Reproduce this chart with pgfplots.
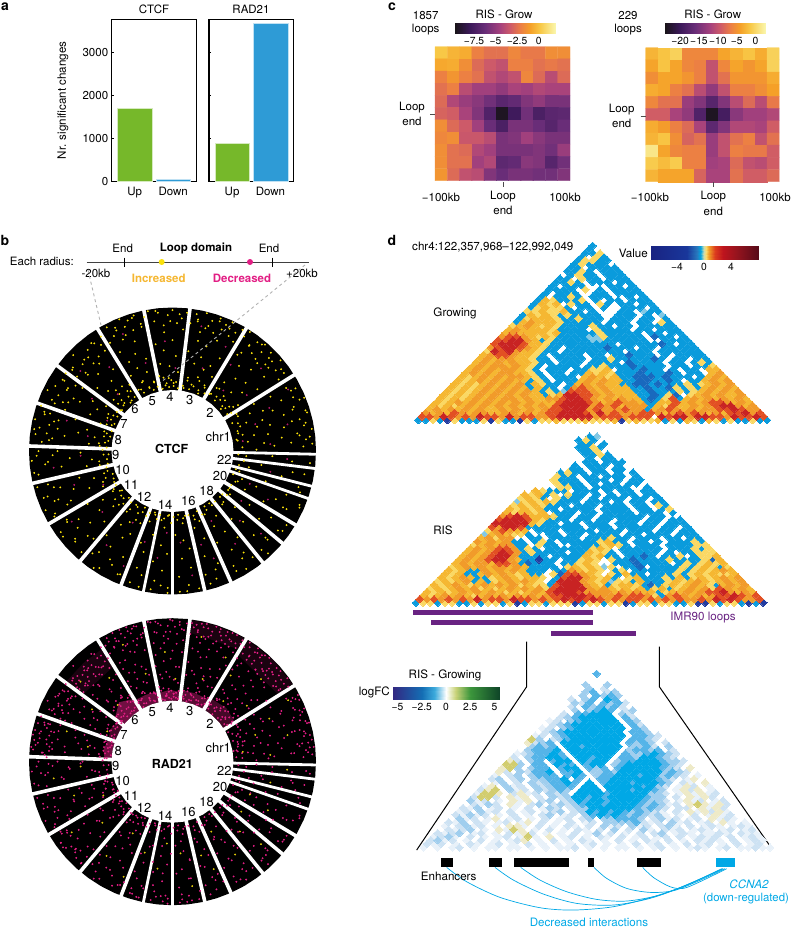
\documentclass[border=0pt]{standalone}
\usepackage{fontspec}
\setmainfont{TeX Gyre Heros}
\usepackage{pgfplots}
\usepackage{pgfplotstable}
\pgfplotsset{compat=1.18}
\definecolor{gbar}{RGB}{118,184,42}\definecolor{bbar}{RGB}{46,155,214}
\definecolor{yel}{RGB}{250,225,10}\definecolor{mag}{RGB}{226,30,132}
\definecolor{gb}{RGB}{10,155,220}\definecolor{gd}{RGB}{25,105,190}\definecolor{gn}{RGB}{35,60,160}\definecolor{gp}{RGB}{130,200,228}
\definecolor{ga}{RGB}{245,183,50}\definecolor{gy}{RGB}{250,216,100}\definecolor{go}{RGB}{241,155,42}\definecolor{gr}{RGB}{226,80,35}\definecolor{gR}{RGB}{200,35,35}
\definecolor{cy}{RGB}{0,168,230}\definecolor{pu}{RGB}{105,35,130}
\definecolor{f1}{RGB}{232,241,249}\definecolor{f2}{RGB}{205,226,243}\definecolor{f3}{RGB}{160,206,238}\definecolor{f4}{RGB}{85,180,232}
\definecolor{o1}{RGB}{238,234,200}\definecolor{o2}{RGB}{210,205,110}
\pgfplotsset{
 colormap={inf}{rgb255(0)=(25,20,25) rgb255(15)=(60,25,90) rgb255(30)=(105,45,120) rgb255(45)=(165,65,125) rgb255(55)=(205,90,105) rgb255(65)=(235,125,70) rgb255(75)=(245,160,40) rgb255(85)=(248,200,70) rgb255(100)=(250,245,170)},
 colormap={val}{rgb255(0)=(25,35,130) rgb255(80)=(25,55,155) rgb255(102)=(40,120,190) rgb255(110)=(0,165,225) rgb255(117)=(200,220,180) rgb255(122)=(250,220,110) rgb255(128)=(240,160,40) rgb255(142)=(220,60,30) rgb255(160)=(190,20,30) rgb255(190)=(150,20,30) rgb255(240)=(85,10,25)},
 colormap={lfc}{rgb255(0)=(50,40,130) rgb255(30)=(20,110,180) rgb255(43)=(60,170,220) rgb255(55)=(255,255,255) rgb255(65)=(200,210,120) rgb255(80)=(60,150,60) rgb255(110)=(15,70,40)},
 cell/.style={only marks,mark=square*,mark size=2.6,mark options={rotate=45,fill=#1,draw=#1,line width=0pt},forget plot},
 poly/.style={fill=#1,draw=none,forget plot},
 zoomaxis/.style={scale only axis,hide axis,clip=false,y dir=reverse,anchor=north west},
 hm/.style={scale only axis,hide axis,clip=false,y dir=reverse,anchor=north west,colormap name=inf,point meta min=0,point meta max=1,xmin=-.5,xmax=10.5,ymin=-.5,ymax=10.5,width=#1,height=134},
 cb/.style={scale only axis,anchor=north west,ymin=0,ymax=1,ytick=\empty,axis line style={draw=none},tick style={white,line width=.4pt},tick align=inside,xtick pos=bottom,major tick length=2,enlargelimits=false,tick label style={font=\fontsize{10.3}{11}\selectfont,yshift=-.5pt}},
 circ/.style={scale only axis,hide axis,clip=false,anchor=center,width=300,height=300,xmin=-150,xmax=150,ymin=-150,ymax=150,data cs=polar},
 dot/.style={only marks,mark=*,mark size=.72,#1,forget plot},
 barax/.style={scale only axis,anchor=north west,width=84.5,height=162,ymin=0,ymax=3767,xmin=.4,xmax=2.6,ybar,bar width=.9,bar shift=0pt,xtick={1,2},xticklabels={Up,Down},ytick={0,1000,2000,3000},major tick length=2,xtick style={draw=none},axis line style={line width=1.2pt},ytick pos=left,tick style={black,line width=.7pt},tick label style={font=\fontsize{11.5}{12}\selectfont},/pgf/number format/assume math mode=true,/pgf/number format/1000 sep={}},
}
\pgfplotstableread[row sep=\\]{a r\\0 143.5\\6 143.5\\12 143.5\\18 143.5\\24 143.5\\30 143.5\\36 143.5\\42 143.5\\48 143.5\\54 143.5\\60 143.5\\66 143.5\\72 143.5\\78 143.5\\84 143.5\\90 143.5\\96 143.5\\102 143.5\\108 143.5\\114 143.5\\120 143.5\\126 143.5\\132 143.5\\138 143.5\\144 143.5\\150 143.5\\156 143.5\\162 143.5\\168 143.5\\174 143.5\\180 143.5\\186 143.5\\192 143.5\\198 143.5\\204 143.5\\210 143.5\\216 143.5\\222 143.5\\228 143.5\\234 143.5\\240 143.5\\246 143.5\\252 143.5\\258 143.5\\264 143.5\\270 143.5\\276 143.5\\282 143.5\\288 143.5\\294 143.5\\300 143.5\\306 143.5\\312 143.5\\318 143.5\\324 143.5\\330 143.5\\336 143.5\\342 143.5\\348 143.5\\354 143.5\\}\ringout
\pgfplotstableread[row sep=\\]{a r\\0 61\\10 61\\20 61\\30 61\\40 61\\50 61\\60 61\\70 61\\80 61\\90 61\\100 61\\110 61\\120 61\\130 61\\140 61\\150 61\\160 61\\170 61\\180 61\\190 61\\200 61\\210 61\\220 61\\230 61\\240 61\\250 61\\260 61\\270 61\\280 61\\290 61\\300 61\\310 61\\320 61\\330 61\\340 61\\350 61\\}\ringin
\pgfplotstableread[row sep=\\]{a r\\
1 84\\2 131\\3 102\\3 70\\4 119\\5 92\\6 138\\7 76\\7 110\\8 126\\9 66\\10 97\\11 134\\11 83\\12 114\\13 72\\14 123\\15 101\\16 140\\16 88\\17 68\\18 117\\19 95\\20 129\\21 79\\22 108\\22 137\\23 71\\24 99\\25 120\\26 86\\27 133\\28 74\\29 112\\30 94\\
34 128\\35 80\\36 105\\37 136\\38 72\\39 118\\40 91\\41 127\\42 67\\43 100\\44 134\\45 83\\46 113\\47 75\\48 124\\49 96\\50 139\\51 70\\52 108\\53 86\\54 130\\55 77\\56 116\\57 68\\
61 125\\62 84\\63 104\\64 73\\65 135\\66 93\\67 66\\68 119\\69 87\\70 138\\71 78\\72 110\\73 98\\74 69\\75 127\\76 90\\77 113\\78 75\\79 132\\80 64\\81 101\\
85 122\\86 79\\87 137\\88 95\\89 68\\90 111\\91 130\\92 85\\93 73\\94 119\\95 101\\96 66\\97 141\\98 88\\99 108\\100 76\\
104 128\\105 71\\106 96\\107 139\\108 83\\109 116\\110 67\\111 104\\112 125\\113 90\\114 75\\115 133\\116 99\\117 69\\118 112\\119 86\\
124 121\\125 73\\126 101\\127 135\\128 82\\129 65\\130 114\\131 93\\132 126\\133 78\\134 107\\135 68\\136 138\\137 88\\138 117\\139 72\\140 98\\141 129\\142 66\\
145 110\\146 80\\147 131\\148 94\\149 69\\150 122\\151 86\\152 105\\153 73\\154 139\\155 115\\156 90\\157 66\\158 127\\159 77\\
162 102\\163 134\\164 71\\165 118\\166 88\\167 64\\168 126\\169 96\\170 79\\171 140\\172 109\\173 68\\174 121\\175 84\\176 73\\
180 115\\181 92\\182 136\\183 69\\184 103\\185 125\\186 81\\187 66\\188 112\\189 140\\190 87\\191 74\\
195 129\\196 97\\197 68\\198 118\\199 83\\200 137\\201 106\\202 72\\203 124\\204 91\\205 65\\206 113\\207 78\\208 133\\
212 100\\213 70\\214 127\\215 85\\216 116\\217 66\\218 139\\219 94\\220 75\\221 109\\222 131\\223 81\\224 68\\225 120\\226 98\\227 72\\228 136\\
232 107\\233 76\\234 125\\235 90\\236 65\\237 114\\238 138\\239 83\\240 100\\241 71\\242 129\\243 93\\244 68\\245 117\\246 79\\247 134\\
251 97\\252 74\\253 122\\254 105\\255 66\\256 140\\257 86\\
260 112\\261 70\\262 131\\263 95\\264 77\\265 120\\266 65\\267 103\\268 137\\
272 84\\273 126\\274 69\\275 108\\276 141\\277 90\\278 73\\279 118\\280 99\\281 66\\
285 128\\286 80\\287 110\\288 68\\289 135\\290 93\\291 75\\292 121\\
296 102\\297 71\\298 130\\299 86\\300 64\\301 115\\302 139\\303 96\\304 78\\305 124\\306 67\\307 108\\
311 90\\312 133\\313 73\\314 117\\315 100\\316 66\\317 127\\318 84\\
322 110\\323 72\\324 136\\325 94\\326 119\\327 68\\
331 104\\332 82\\333 128\\334 70\\335 114\\336 139\\337 91\\338 75\\339 122\\
342 98\\343 70\\344 131\\347 112\\348 78\\350 134\\351 90\\355 120\\356 74\\357 100\\}\dotsA
\pgfplotstableread[row sep=\\]{a r\\
3 140\\5 134\\7 128\\9 141\\10 65\\12 136\\14 131\\15 68\\17 139\\19 127\\20 72\\22 142\\24 132\\25 66\\27 138\\29 130\\30 74\\
33 70\\34 66\\35 136\\36 75\\38 131\\39 68\\40 141\\41 64\\42 134\\43 127\\44 73\\45 139\\46 122\\47 70\\48 133\\49 141\\50 66\\51 126\\52 138\\53 78\\54 131\\55 120\\56 69\\57 142\\58 135\\
60 140\\61 66\\62 134\\63 71\\64 128\\65 142\\66 63\\67 137\\68 131\\69 75\\70 141\\71 125\\72 68\\73 136\\74 130\\75 64\\76 142\\77 122\\78 72\\79 134\\80 139\\81 66\\82 129\\
84 139\\85 63\\86 133\\87 69\\88 128\\89 65\\90 141\\91 71\\92 136\\93 64\\94 126\\95 68\\96 139\\97 74\\98 131\\99 63\\100 142\\
102 137\\103 66\\104 131\\105 72\\106 141\\107 64\\108 127\\109 138\\110 68\\111 133\\112 142\\113 76\\114 122\\115 136\\116 65\\117 129\\118 140\\119 70\\120 125\\
122 135\\123 79\\124 128\\125 66\\126 133\\127 75\\128 120\\129 70\\130 132\\131 64\\132 118\\133 83\\134 127\\135 72\\136 125\\137 67\\138 114\\139 78\\140 130\\141 65\\142 121\\
144 132\\145 68\\146 117\\147 129\\148 65\\149 122\\150 74\\151 134\\152 112\\153 69\\154 127\\155 64\\156 120\\157 131\\158 71\\159 115\\
161 139\\162 64\\163 128\\164 133\\165 68\\166 122\\167 141\\168 70\\169 117\\170 135\\171 65\\172 127\\173 138\\174 74\\175 124\\176 131\\177 66\\
179 70\\180 134\\182 120\\183 64\\184 141\\186 128\\188 74\\190 136\\191 66\\
194 68\\195 140\\197 124\\198 72\\200 133\\201 64\\203 128\\204 76\\205 140\\207 118\\208 66\\209 135\\
211 66\\213 126\\214 72\\216 138\\218 64\\219 122\\221 68\\223 133\\225 76\\227 64\\228 118\\
231 66\\232 130\\234 72\\236 141\\238 66\\240 125\\242 78\\244 63\\246 135\\248 70\\
250 66\\252 138\\254 64\\256 128\\257 70\\259 65\\261 140\\263 68\\265 135\\267 64\\268 142\\269 72\\
271 66\\273 141\\275 64\\277 135\\279 68\\281 140\\
284 66\\286 138\\288 72\\290 126\\292 65\\
295 70\\298 136\\300 68\\303 128\\305 64\\307 133\\
310 66\\313 140\\315 72\\317 130\\319 66\\
321 70\\323 132\\325 68\\327 136\\
330 68\\333 124\\335 72\\337 138\\339 65\\
342 134\\344 66\\348 68\\350 122\\352 72\\355 138\\357 66\\}\dotsB
\pgfplotstableread[row sep=\\]{a r\\
4 98\\8 71\\13 118\\18 87\\24 106\\28 131\\37 93\\43 121\\50 79\\56 104\\63 117\\70 88\\77 128\\88 83\\94 110\\107 92\\113 127\\127 105\\134 79\\139 122\\147 96\\155 72\\164 110\\170 86\\183 92\\188 120\\199 104\\206 77\\215 123\\221 93\\235 115\\241 82\\247 125\\253 95\\262 108\\266 82\\275 92\\279 126\\287 98\\291 115\\299 80\\304 112\\314 97\\317 121\\324 85\\333 107\\337 84\\348 100\\356 115\\}\dotsC
\pgfplotstableread[row sep=\\]{a r\\
2 96\\4 122\\6 81\\8 137\\10 107\\12 90\\14 126\\16 75\\18 112\\20 136\\22 88\\24 118\\26 98\\28 142\\30 84\\
33 112\\35 93\\36 128\\38 100\\40 82\\41 133\\43 110\\44 90\\46 129\\47 104\\49 84\\50 118\\52 97\\53 137\\55 88\\57 110\\
61 110\\62 95\\64 116\\65 83\\67 124\\68 100\\70 91\\72 118\\73 82\\75 108\\77 138\\78 93\\80 115\\81 88\\
85 110\\86 95\\88 118\\89 82\\91 103\\92 123\\94 90\\96 114\\97 84\\99 120\\100 97\\
104 115\\105 90\\107 122\\108 100\\110 85\\111 118\\113 97\\115 112\\116 82\\118 105\\119 92\\
123 104\\125 90\\126 118\\128 84\\129 122\\131 96\\133 125\\134 105\\136 116\\137 90\\139 124\\140 104\\142 118\\
145 88\\147 120\\148 104\\150 132\\151 90\\153 124\\154 98\\156 130\\157 84\\159 108\\
162 118\\163 92\\165 130\\166 100\\168 136\\169 84\\171 122\\172 92\\174 142\\175 108\\177 128\\
180 90\\181 124\\183 104\\185 132\\187 78\\189 110\\191 128\\
195 108\\196 84\\198 136\\199 96\\201 126\\202 106\\204 88\\206 128\\207 98\\209 118\\
212 132\\213 86\\215 108\\216 138\\218 96\\220 132\\222 84\\224 128\\226 104\\228 137\\
232 118\\233 88\\235 134\\236 102\\238 125\\240 88\\242 112\\244 138\\246 100\\248 130\\
251 116\\253 138\\255 88\\257 130\\259 102\\261 125\\263 85\\265 112\\267 134\\269 92\\
272 112\\274 138\\276 80\\278 118\\280 100\\282 132\\
285 108\\287 84\\289 122\\291 100\\293 130\\
296 118\\298 88\\300 112\\302 92\\304 132\\306 104\\308 88\\
311 118\\313 96\\315 132\\317 88\\319 108\\
322 96\\324 120\\326 80\\328 110\\
330 116\\332 92\\334 134\\336 104\\338 84\\
343 110\\345 84\\347 126\\349 92\\351 120\\354 100\\356 134\\358 84\\}\dotsD
\pgfplotstableread[row sep=\\]{a r\\
4 136\\6 142\\8 131\\11 140\\13 135\\16 142\\18 134\\21 139\\23 133\\26 141\\28 136\\4 64\\7 70\\10 62\\13 67\\16 73\\19 64\\22 69\\25 75\\28 63\\
33 138\\34 130\\36 142\\37 126\\39 137\\41 121\\42 140\\44 131\\45 128\\47 142\\48 124\\50 136\\51 130\\53 142\\54 126\\56 138\\57 129\\58 122\\
34 72\\36 64\\38 78\\40 69\\42 75\\44 63\\46 80\\48 72\\50 62\\52 68\\54 76\\56 64\\58 70\\
60 136\\61 130\\63 142\\64 134\\66 129\\67 141\\69 135\\70 128\\72 142\\73 132\\75 138\\76 129\\78 141\\79 127\\81 136\\82 140\\
61 73\\63 64\\65 70\\67 62\\69 66\\71 73\\73 64\\75 70\\77 62\\79 68\\81 72\\
85 132\\87 140\\89 135\\91 142\\93 130\\95 137\\97 130\\99 141\\
85 71\\87 64\\89 68\\91 63\\93 70\\95 66\\97 62\\99 72\\
103 132\\105 140\\106 128\\108 135\\109 142\\111 126\\112 138\\114 132\\115 142\\117 128\\118 136\\120 134\\
104 70\\106 63\\108 72\\110 65\\112 74\\114 64\\116 70\\118 62\\120 68\\
122 122\\124 113\\126 128\\127 118\\129 112\\130 126\\132 115\\133 130\\135 120\\136 110\\138 128\\139 116\\141 124\\142 113\\
123 72\\125 78\\127 64\\129 82\\131 70\\133 76\\135 64\\137 80\\139 68\\141 72\\143 64\\
146 126\\148 120\\149 132\\151 118\\153 128\\155 122\\157 134\\159 120\\146 68\\150 66\\154 70\\158 63\\
163 130\\164 140\\166 125\\167 135\\169 142\\170 128\\172 136\\173 124\\175 140\\176 130\\178 126\\163 70\\165 63\\168 66\\171 70\\174 62\\177 68\\
196 70\\199 64\\202 72\\205 66\\208 62\\213 132\\216 126\\219 137\\222 130\\225 136\\228 128\\214 64\\218 68\\222 62\\226 70\\
233 66\\237 72\\241 64\\245 70\\252 133\\255 140\\263 136\\266 140\\274 133\\278 140\\300 136\\313 132\\325 136\\}\dotsE
\pgfplotstableread[row sep=\\]{x y c\\
0 0 .85\\1 0 .8\\2 0 .78\\3 0 .66\\4 0 .62\\5 0 .62\\6 0 .68\\7 0 .64\\8 0 .64\\9 0 .7\\10 0 .7\\
0 1 .77\\1 1 .78\\2 1 .7\\3 1 .6\\4 1 .55\\5 1 .52\\6 1 .66\\7 1 .66\\8 1 .62\\9 1 .64\\10 1 .62\\
0 2 .66\\1 2 .72\\2 2 .66\\3 2 .62\\4 2 .52\\5 2 .48\\6 2 .52\\7 2 .68\\8 2 .6\\9 2 .5\\10 2 .6\\
0 3 .62\\1 3 .66\\2 3 .5\\3 3 .44\\4 3 .44\\5 3 .4\\6 3 .46\\7 3 .44\\8 3 .48\\9 3 .46\\10 3 .46\\
0 4 .6\\1 4 .48\\2 4 .42\\3 4 .38\\4 4 .32\\5 4 .25\\6 4 .28\\7 4 .36\\8 4 .4\\9 4 .34\\10 4 .34\\
0 5 .58\\1 5 .56\\2 5 .46\\3 5 .36\\4 5 .22\\5 5 .02\\6 5 .16\\7 5 .32\\8 5 .2\\9 5 .25\\10 5 .26\\
0 6 .7\\1 6 .6\\2 6 .55\\3 6 .44\\4 6 .3\\5 6 .2\\6 6 .34\\7 6 .34\\8 6 .3\\9 6 .24\\10 6 .3\\
0 7 .68\\1 7 .7\\2 7 .54\\3 7 .54\\4 7 .5\\5 7 .34\\6 7 .36\\7 7 .44\\8 7 .38\\9 7 .34\\10 7 .34\\
0 8 .7\\1 8 .62\\2 8 .6\\3 8 .48\\4 8 .44\\5 8 .34\\6 8 .34\\7 8 .34\\8 8 .36\\9 8 .32\\10 8 .42\\
0 9 .7\\1 9 .62\\2 9 .62\\3 9 .44\\4 9 .48\\5 9 .26\\6 9 .28\\7 9 .38\\8 9 .36\\9 9 .24\\10 9 .32\\
0 10 .72\\1 10 .6\\2 10 .52\\3 10 .5\\4 10 .36\\5 10 .3\\6 10 .34\\7 10 .34\\8 10 .32\\9 10 .32\\10 10 .36\\}\hmA
\pgfplotstableread[row sep=\\]{x y c\\
0 0 .8\\1 0 .84\\2 0 .88\\3 0 .68\\4 0 .68\\5 0 .68\\6 0 .76\\7 0 .8\\8 0 .84\\9 0 .78\\10 0 .88\\
0 1 .76\\1 1 .84\\2 1 .76\\3 1 .68\\4 1 .66\\5 1 .52\\6 1 .68\\7 1 .76\\8 1 .72\\9 1 .76\\10 1 .88\\
0 2 .7\\1 2 .76\\2 2 .76\\3 2 .72\\4 2 .66\\5 2 .52\\6 2 .62\\7 2 .72\\8 2 .72\\9 2 .72\\10 2 .78\\
0 3 .78\\1 3 .76\\2 3 .66\\3 3 .62\\4 3 .5\\5 3 .4\\6 3 .52\\7 3 .66\\8 3 .66\\9 3 .7\\10 3 .75\\
0 4 .68\\1 4 .62\\2 4 .62\\3 4 .42\\4 4 .36\\5 4 .24\\6 4 .36\\7 4 .5\\8 4 .6\\9 4 .5\\10 4 .64\\
0 5 .56\\1 5 .56\\2 5 .46\\3 5 .4\\4 5 .22\\5 5 .02\\6 5 .18\\7 5 .38\\8 5 .44\\9 5 .44\\10 5 .48\\
0 6 .78\\1 6 .74\\2 6 .66\\3 6 .6\\4 6 .46\\5 6 .26\\6 6 .36\\7 6 .48\\8 6 .48\\9 6 .46\\10 6 .56\\
0 7 .8\\1 7 .84\\2 7 .7\\3 7 .58\\4 7 .62\\5 7 .42\\6 7 .52\\7 7 .62\\8 7 .66\\9 7 .52\\10 7 .62\\
0 8 .95\\1 8 .76\\2 8 .68\\3 8 .66\\4 8 .66\\5 8 .42\\6 8 .52\\7 8 .66\\8 8 .64\\9 8 .64\\10 8 .56\\
0 9 .86\\1 9 .82\\2 9 .86\\3 9 .66\\4 9 .66\\5 9 .44\\6 9 .46\\7 9 .6\\8 9 .52\\9 9 .5\\10 9 .56\\
0 10 .8\\1 10 .76\\2 10 .76\\3 10 .76\\4 10 .58\\5 10 .46\\6 10 .46\\7 10 .62\\8 10 .56\\9 10 .56\\10 10 .6\\}\hmB
% triangle cells: one digit per cell, row by row from the base
\makeatletter
\newcount\tk \newcount\ti
\def\tribegin#1#2#3#4{\gdef\tX{#1}\gdef\tY{#2}\gdef\tD{#3}\gdef\tH{#4}\global\tk=0
 \expandafter\gdef\csname LL0\endcsname{}\expandafter\gdef\csname LL1\endcsname{}\expandafter\gdef\csname LL2\endcsname{}\expandafter\gdef\csname LL3\endcsname{}\expandafter\gdef\csname LL4\endcsname{}\expandafter\gdef\csname LL5\endcsname{}\expandafter\gdef\csname LL6\endcsname{}\expandafter\gdef\csname LL7\endcsname{}\expandafter\gdef\csname LL8\endcsname{}\expandafter\gdef\csname LL9\endcsname{}}
\def\trirow#1{\global\ti=0 \tr@#1\relax\global\advance\tk by 1 }
\def\tr@#1{\ifx#1\relax\else\tr@c{#1}\global\advance\ti by 1 \expandafter\tr@\fi}
\def\tr@c#1{\expandafter\xdef\csname LL#1\endcsname{\csname LL#1\endcsname(\the\numexpr(\tX*100+(2*\ti+\tk)*\tD)/100\relax,\the\numexpr(\tY*100-\tk*\tH)/100\relax)}}
\def\plotL#1#2{\edef\tmp{\noexpand\addplot[cell=#2] coordinates {\csname LL#1\endcsname(-9999,-9999)};}\tmp}
\makeatother
\def\GTrows{%
\trirow{2252452225 4522452556 5556555645 6556252652 652522522}
\trirow{8879878798 8797887789 9999788878 8809899799 88798898}
\trirow{767687677667767678 899987978777 887678 78767688978}
\trirow{67676767667676767 889997877787 726787 67677889877}
\trirow{6565676767676767 6 89999787867 772 6586 6767899767}
\trirow{656767676767676 66 8999876787 7622 668 6767887676}
\trirow{65656767677676 677 899876767 66232 58 2676767676}
\trirow{6565676767676 6256 99887676 662232 5 3056767667}
\trirow{656567676767 62521 8887676 6622322 2525676767}
\trirow{65656767676 262202 787676 6622322 3525267676}
\trirow{6565676767 2652202 67676 6223323 2225256767}
\trirow{656767676 62520222 6767 6622332 2320226767}
\trirow{65676767 765202220 676 5622333 2322202676}
\trirow{6767677 6652022022 65 6522232 2232022067}
\trirow{676767 76520222022 5 5602223 2202022066}
\trirow{67677 676520222202 25222322 220220225}
\trirow{6767 6766522022202 22203222 20220252}
\trirow{676 776652202222 022522222 32022022}
\trirow{67 887665202222 022022322 20202222}
\trirow{5 98976 65220222 22222022 20222222}
\trirow{78998 76522022 22232220 22022222}
\trirow{89998 6652222 22222022 22232022}
\trirow{88997 6252222 2112222 22002222}
\trirow{78876 565222 21152222 2032202}
\trirow{67666 65622 22252222 2022022}
\trirow{6766 66522 22052222 0220222}
\trirow{5676 56522 2252202 2022222}
\trirow{2676 6652 2222022 2022052}
\trirow{2566 6522 522202 2202202}
\trirow{2656 5252 222002 220201}
\trirow{5565 5622 02000 220122}
\trirow{2565 5202 20200 22202}
\trirow{2656 0522 05202 2022}
\trirow{2652 2250 2022 0222}
\trirow{2022 5202 2200 202}
\trirow{2022 2002 2022 22}
\trirow{2222 0502 0222 2}
\trirow{2022 2000 2202}
\trirow{2252 0222 022}
\trirow{2205 2202 22}
\trirow{0252 2022 2}
\trirow{2252 0222}
\trirow{2202 222}
\trirow{2522 20}
\trirow{25522}
\trirow{2052}
\trirow{225}
\trirow{20}
\trirow{2}}
\def\RSrows{%
\trirow{2552552252 5525425525 5542552554 2552552254 452552424}
\trirow{8787878797 8879887878 9898987878 8787878778 79898778}
\trirow{656767656767676767 889998777878 875278 76767889878}
\trirow{65656767676565676 899987777676 766256 67678897676}
\trirow{5656767565676767 5 89999767656 562 5625 6767587676}
\trirow{656765676767565 52 8999765256 6523 256 5676526767}
\trirow{56567262567676 502 999765615 52622 25 6567656767}
\trirow{6567622567656 6502 89976562 056222 5 2625656767}
\trirow{656226767656 22053 8876505 2622022 2525656556}
\trirow{65622767676 222022 765650 2502222 2252565676}
\trirow{5676767767 6222205 65651 5022302 2225256525}
\trirow{676776887 23222022 5650 0222322 2202525656}
\trirow{67678997 622422022 565 0522322 2252222536}
\trirow{6767899 7222202222 65 6220223 2022502556}
\trirow{676789 87252222022 6 5520222 2202022555}
\trirow{67678 872520222222 56502222 220222525}
\trirow{5676 7722052200222 25652022 20222255}
\trirow{767 672202520222 225622022 02022252}
\trirow{67 577002202222 022252202 22022022}
\trirow{1 67655 20022022 02222022 02220222}
\trirow{57876 60222022 22022202 22022022}
\trirow{87998 2222222 20222022 22202202}
\trirow{99999 6522022 0222022 20220222}
\trirow{89998 652220 22022022 2022022}
\trirow{78986 66522 02202222 2202200}
\trirow{6566 56022 20220222 2022202}
\trirow{6565 62202 2220222 2022025}
\trirow{5656 5222 0222022 2022052}
\trirow{1565 6522 202220 2022022}
\trirow{5652 0522 202022 202202}
\trirow{6562 5052 20202 022022}
\trirow{0652 2202 22020 22022}
\trirow{0000 5522 02222 2002}
\trirow{0005 2220 2022 0220}
\trirow{0052 2202 2202 022}
\trirow{0052 2022 0222 02}
\trirow{0025 2202 2020 2}
\trirow{0002 2022 0220}
\trirow{0002 0222 020}
\trirow{0000 2202 22}
\trirow{0000 2022 0}
\trirow{0002 2520}
\trirow{0022 500}
\trirow{0225 20}
\trirow{02202}
\trirow{2520}
\trirow{021}}
\def\LOrows{%
\trirow{1010120101 1011010101 1201010110 1012010121 012011211}
\trirow{2120102101 2010201010 1012010102 0120102012 01020120}
\trirow{2312010201 0126010201 0210102010 2102010212 1020121}
\trirow{1231020101 2017106012 0102102012 0120201212 020121}
\trirow{2123012010 2162010102 0130201020 2301210112 10211}
\trirow{0212301061 7601020102 1020302031 0212012101 2012}
\trirow{1023120106 6102010210 2031203120 2310201210 121}
\trirow{2130210120 1602010201 2033334212 0312012061 01}
\trirow{0312016012 0102012023 0334443023 1201206121 0}
\trirow{2131201020102301203 45454 3432310 102016120}
\trirow{120312020120123023 54545 4343210 206162610}
\trirow{21301201020132023 3 5555 55 43432 022061620}
\trirow{0213206102302323 45 545 555 4343 120676162}
\trirow{312010616023023 545 54 5555 433 201612012}
\trirow{27720616020323 5545 4 55555 43 302061620}
\trirow{1776026120323 0 5555 455555 33 20161612}
\trirow{267031203234 3 0 555 0 555455 4 30162601}
\trirow{16031203234 440 55 0 5555545 3 2016201}
\trirow{0130203234 4540 5 0 45554555 4 302106}
\trirow{2302303344 5040 0 44555555 4 320160}
\trirow{102303444 0 454 0 344555455 3 43201}
\trirow{62032445 0 445 0 3 3 43555555 34320}
\trirow{6730344 0 455 0 434 0455555 43206}
\trirow{773044 0 544 0 45 5 0 345555 54320}
\trirow{62034 0 455 0 5455 0 344555 4332}
\trirow{20344 554 0 55455 0 44355 4320}
\trirow{12344 54 0 555555 0 4334 5432}
\trirow{0344 45 0 5555555 0 344 3402}
\trirow{0343 4 0 55455555 0 33 4203}
\trirow{6234 0 55555555 0 43 4302}
\trirow{7302 34555555 5 0 4 4320}
\trirow{1203 455555555 0 4432}
\trirow{0234 55555555 0 4430}
\trirow{1203 4555555 5 0430}
\trirow{0234 5555555 0420}
\trirow{1203 455555 0430}
\trirow{0234 55555 0420}
\trirow{0204 4555 0320}
\trirow{0030 3454 023}
\trirow{0204343420}
\trirow{032404342}
\trirow{20340540}
\trirow{0304343}
\trirow{034023}
\trirow{03020}
\trirow{3003}
\trirow{000}
\trirow{00}
\trirow{4}}
\newcommand\fs[1]{\fontsize{#1}{#1}\selectfont}
\newcommand\circlelabels{%
 \foreach \px/\py/\t in {218.3/437.3/chr1,210/412.7/2,189.7/400/3,170/397.3/4,152.3/401/5,135/409.3/6,124/424/7,118.3/440/8,115.7/455/9,122.7/470/10,131/484.7/11,144/496.7/12,165/505/14,188.3/501/16,206.7/490.7/18,220/475.7/20,224.3/460/22}
  {\node[font=\fs{13},inner sep=0pt] at (\px,\py) {\t};}}
\newcommand\ringbase{\addplot[poly=black] table[x=a,y=r] {\ringout};}
\newcommand\ringgaps{%
 \pgfplotsinvokeforeach{32,59,83,101.5,121.5,143.5,160.5,178,193,210.5,230,249,270,283,294,309,320,329}{\addplot[white,line width=3.6pt,forget plot] coordinates {(##1,58)(##1,150)};}
 \pgfplotsinvokeforeach{258.3,340.7,345.8,353,358.7}{\addplot[white,line width=2.8pt,forget plot] coordinates {(##1,58)(##1,150)};}
 \addplot[poly=white] table[x=a,y=r] {\ringin};}
\begin{document}
\begin{tikzpicture}[x=1pt,y=-1pt]
\useasboundingbox (0,0) rectangle (792,929);
% panel letters
\foreach \px/\py/\t in {5/7/a,5/240/b,392/7/c,392/240/d}{\node[font=\fs{14}\bfseries,inner sep=0pt] at (\px,\py) {\t};}
% --- a
\begin{axis}[barax,at={(111.7pt,-19.3pt)},ylabel={Nr. significant changes},ylabel style={font=\fs{11.6},at={(axis description cs:-.47,.5)}}]
\addplot[fill=gbar,draw=white!70!gbar,line width=.4pt] coordinates {(1,1705)};
\addplot[fill=bbar,draw=white!70!bbar,line width=.4pt] coordinates {(2,60)};
\end{axis}
\begin{axis}[barax,at={(209pt,-19.3pt)},yticklabels={}]
\addplot[fill=gbar,draw=white!70!gbar,line width=.4pt] coordinates {(1,883)};
\addplot[fill=bbar,draw=white!70!bbar,line width=.4pt] coordinates {(2,3674)};
\end{axis}
\node[font=\fs{11.5},inner sep=0pt] at (154,9.5) {CTCF};
\node[font=\fs{11.5},inner sep=0pt] at (251,9.5) {RAD21};
% --- b header
\draw[black!75,line width=.9pt] (86.7,262) -- (309,262);
\draw[black,line width=.7pt] (124.7,257.5) -- (124.7,266.5) (272,257.5) -- (272,266.5);
\fill[yel] (161.7,262) circle (3); \fill[mag] (250,262) circle (3);
\foreach \px/\t in {122.7/End,269/End}{\node[font=\fs{11.5},inner sep=0pt] at (\px,248) {\t};}
\node[font=\fs{11.5}\bfseries,inner sep=0pt] at (196,248) {Loop domain};
\node[font=\fs{11.5},inner sep=0pt,anchor=east] at (74,261) {Each radius:};
\node[font=\fs{11.5},inner sep=0pt] at (96,273) {-20kb};
\node[font=\fs{11.5},inner sep=0pt] at (302,273) {+20kb};
\node[font=\fs{11.5}\bfseries,inner sep=0pt,text=ga] at (158.7,278) {Increased};
\node[font=\fs{11.5}\bfseries,inner sep=0pt,text=mag] at (242,278) {Decreased};
% --- CTCF circle
\begin{axis}[circ,at={(172.5pt,-451pt)}]
\ringbase
\addplot[dot=yel] table[x=a,y=r] {\dotsA};
\addplot[dot=yel] table[x=a,y=r] {\dotsB};
\addplot[dot=mag!80!black] table[x=a,y=r] {\dotsC};
\ringgaps
\end{axis}
\draw[black!30,line width=.9pt,dash pattern=on 3pt off 3pt] (88,270) -- (101,325);
\draw[black!30,line width=.9pt,dash pattern=on 3pt off 3pt] (305,265) -- (160,383);
\circlelabels
\node[font=\fs{12.5}\bfseries,inner sep=0pt] at (171.7,448.7) {CTCF};
% --- RAD21 circle
\begin{axis}[circ,at={(172.5pt,-761.7pt)}]
\ringbase
\addplot[poly=mag,fill opacity=.12] coordinates {(33,125)(45,122)(58,125)(58,143)(45,143)(33,143)};
\addplot[poly=mag,fill opacity=.12] coordinates {(60,130)(72,128)(82,130)(82,143)(72,143)(60,143)};
\addplot[poly=mag,fill opacity=.12] coordinates {(122,112)(132,110)(143,112)(143,133)(132,133)(122,133)};
\addplot[poly=mag,fill opacity=.3] coordinates {(33,61)(45,61)(58,61)(58,74)(45,76)(33,74)};
\addplot[poly=mag,fill opacity=.4] coordinates {(60,61)(72,61)(82,61)(82,72)(72,72)(60,72)};
\addplot[poly=mag,fill opacity=.45] coordinates {(84,61)(92,61)(101,61)(101,70)(92,72)(84,70)};
\addplot[poly=mag,fill opacity=.45] coordinates {(103,61)(112,61)(120,61)(120,72)(112,72)(103,72)};
\addplot[poly=mag,fill opacity=.5] coordinates {(122,61)(132,61)(143,61)(143,72)(132,80)(122,74)};
\addplot[poly=mag,fill opacity=.3] coordinates {(145,61)(152,61)(160,61)(160,68)(152,70)(145,68)};
\addplot[poly=mag,fill opacity=.5] coordinates {(162,61)(170,61)(178,61)(178,68)(170,70)(162,68)};
\addplot[dot=mag] table[x=a,y=r] {\dotsA};
\addplot[dot=mag] table[x=a,y=r] {\dotsB};
\addplot[dot=mag] table[x=a,y=r] {\dotsD};
\addplot[dot=mag] table[x=a,y=r] {\dotsE};
\addplot[dot=yel!90!black] table[x=a,y=r] {\dotsC};
\ringgaps
\end{axis}
\begin{scope}[shift={(0,311)}]\circlelabels\end{scope}
\node[font=\fs{12.5}\bfseries,inner sep=0pt] at (172.3,763.7) {RAD21};
% --- c
\begin{axis}[hm=135,at={(435pt,-46.7pt)}]\addplot[matrix plot*,mesh/cols=11,point meta=explicit,forget plot] table[x=x,y=y,meta=c] {\hmA};\end{axis}
\begin{axis}[hm=133.5,at={(645.7pt,-47.7pt)}]\addplot[matrix plot*,mesh/cols=11,point meta=explicit,forget plot] table[x=x,y=y,meta=c] {\hmB};\end{axis}
\begin{axis}[cb,at={(455pt,-23pt)},width=100,height=10,colormap name=inf,xmin=-9.7,xmax=1.9,point meta min=-9.7,point meta max=1.9,xtick={-7.5,-5,-2.5,0},xticklabels={−7.5,−5,−2.5,0}]
\addplot[surf,shader=interp,mesh/rows=2,point meta=x,forget plot] coordinates {(-9.7,0)(1.9,0)(-9.7,1)(1.9,1)};\end{axis}
\begin{axis}[cb,at={(665pt,-23pt)},width=100,height=10,colormap name=inf,xmin=-24,xmax=2.5,point meta min=-24,point meta max=2.5,xtick={-20,-15,-10,-5,0},xticklabels={−20,−15,−10,−5,0}]
\addplot[surf,shader=interp,mesh/rows=2,point meta=x,forget plot] coordinates {(-24,0)(2.5,0)(-24,1)(2.5,1)};\end{axis}
\foreach \px/\py/\t in {425.7/16/1857,425.7/30/loops,628/16/229,628/30/loops,504/14/RIS - Grow,712.7/14/RIS - Grow,412/108/Loop,412/121/end,621.7/110/Loop,621.7/123.7/end,441/197/−100kb,503/197/Loop,503/210.7/end,565/197/100kb,650/197/−100kb,713.3/197/Loop,713.3/211/end,775/197/100kb}
 {\node[font=\fs{11.5},inner sep=0pt] at (\px,\py) {\t};}
\draw[black!70,line width=.6pt] (430,114.7) -- (435,114.7) (640.5,116.7) -- (645.7,116.7) (503,182) -- (503,186.5) (713,182) -- (713,186.5);
% --- d texts
\node[font=\fs{11.6},inner sep=0pt,anchor=west] at (412,246.7) {chr4:122,357,968–122,992,049};
\node[font=\fs{11.6},inner sep=0pt,anchor=east] at (648,253) {Value};
\begin{axis}[cb,at={(651pt,-246pt)},width=107.7,height=13,colormap name=val,xmin=-7.85,xmax=8.1,point meta min=-7.85,point meta max=8.1,xtick={-4,0,4},xticklabels={−4,0,4}]
\addplot[surf,shader=interp,mesh/rows=2,point meta=x,forget plot] coordinates {(-7.85,0)(8.1,0)(-7.85,1)(8.1,1)};\end{axis}
\node[font=\fs{11.6},inner sep=0pt] at (455,313.3) {Growing};
\node[font=\fs{11.6},inner sep=0pt] at (443,530.7) {RIS};
\node[font=\fs{11.6},inner sep=0pt,text=pu] at (703,617.7) {IMR90 loops};
% --- Growing triangle
\begin{axis}[zoomaxis,at={(400pt,-230pt)},width=392,height=210,xmin=0,xmax=1176,ymin=0,ymax=630]
\tribegin{55}{570}{1090}{1090}\GTrows
\plotL{1}{gp}\plotL{2}{gb}\plotL{3}{gd}\plotL{4}{gn}\plotL{5}{gy}\plotL{6}{ga}\plotL{7}{go}\plotL{8}{gr}\plotL{9}{gR}
\end{axis}
% --- RIS triangle
\begin{axis}[zoomaxis,at={(400pt,-440pt)},width=392,height=210,xmin=0,xmax=1176,ymin=0,ymax=630]
\tribegin{48}{488}{1085}{1085}\RSrows
\plotL{1}{gp}\plotL{2}{gb}\plotL{3}{gd}\plotL{4}{gn}\plotL{5}{gy}\plotL{6}{ga}\plotL{7}{go}\plotL{8}{gr}\plotL{9}{gR}
\addplot[poly=pu] coordinates {(40,509)(580,509)(580,525)(40,525)};
\addplot[poly=pu] coordinates {(92,541)(580,541)(580,556)(92,556)};
\addplot[poly=pu] coordinates {(453,572)(707,572)(707,587)(453,587)};
\end{axis}
% --- lower triangle
\node[font=\fs{11.6},inner sep=0pt] at (445,675) {RIS - Growing};
\node[font=\fs{11.6},inner sep=0pt,anchor=east] at (390,692) {logFC};
\begin{axis}[cb,at={(392.7pt,-686.7pt)},width=106.6,height=12.3,colormap name=lfc,xmin=-5.5,xmax=5.5,point meta min=-5.5,point meta max=5.5,xtick={-5,-2.5,0,2.5,5},xticklabels={−5,−2.5,0,2.5,5}]
\addplot[surf,shader=interp,mesh/rows=2,point meta=x,forget plot] coordinates {(-5.5,0)(5.5,0)(-5.5,1)(5.5,1)};\end{axis}
\begin{axis}[zoomaxis,at={(400pt,-640pt)},width=392,height=289,xmin=0,xmax=1176,ymin=0,ymax=867]
\tribegin{70}{622}{1083}{1085}\LOrows
\plotL{1}{f1}\plotL{2}{f2}\plotL{3}{f3}\plotL{4}{f4}\plotL{5}{cy}\plotL{6}{o1}\plotL{7}{o2}
\addplot[black,line width=1pt,forget plot] coordinates {(380,5)(380,140)(50,630)};
\addplot[black,line width=1pt,forget plot] coordinates {(778,20)(778,140)(1115,625)};
\addplot[poly=black] coordinates {(122,653)(158,653)(158,682)(122,682)};
\addplot[poly=black] coordinates {(268,653)(305,653)(305,682)(268,682)};
\addplot[poly=black] coordinates {(342,653)(507,653)(507,682)(342,682)};
\addplot[poly=black] coordinates {(563,653)(582,653)(582,682)(563,682)};
\addplot[poly=black] coordinates {(710,653)(783,653)(783,682)(710,682)};
\addplot[poly=cy] coordinates {(948,653)(1004,653)(1004,682)(948,682)};
\addplot[cy,line width=.7pt,smooth,forget plot] coordinates {(140,682)(200,725)(300,772)(420,803)(520,810)(640,800)(760,770)(860,735)(965,686)};
\addplot[cy,line width=.7pt,smooth,forget plot] coordinates {(285,682)(340,720)(430,762)(530,790)(640,795)(750,775)(860,735)(968,686)};
\addplot[cy,line width=.7pt,smooth,forget plot] coordinates {(362,682)(420,720)(500,755)(590,778)(680,783)(780,765)(870,730)(970,686)};
\addplot[cy,line width=.7pt,smooth,forget plot] coordinates {(582,682)(620,715)(680,745)(750,757)(820,752)(890,725)(975,686)};
\addplot[cy,line width=.7pt,smooth,forget plot] coordinates {(728,682)(760,712)(810,740)(850,745)(900,725)(980,686)};
\end{axis}
\node[font=\fs{11.6},inner sep=0pt] at (448.7,876) {Enhancers};
\node[font=\fs{11.6}\itshape,inner sep=0pt,text=cy] at (749,884) {CCNA2};
\node[font=\fs{11.4},inner sep=0pt,text=cy] at (746,898.3) {(down-regulated)};
\node[font=\fs{11.6},inner sep=0pt,text=cy] at (589,922) {Decreased interactions};
\end{tikzpicture}
\end{document}
